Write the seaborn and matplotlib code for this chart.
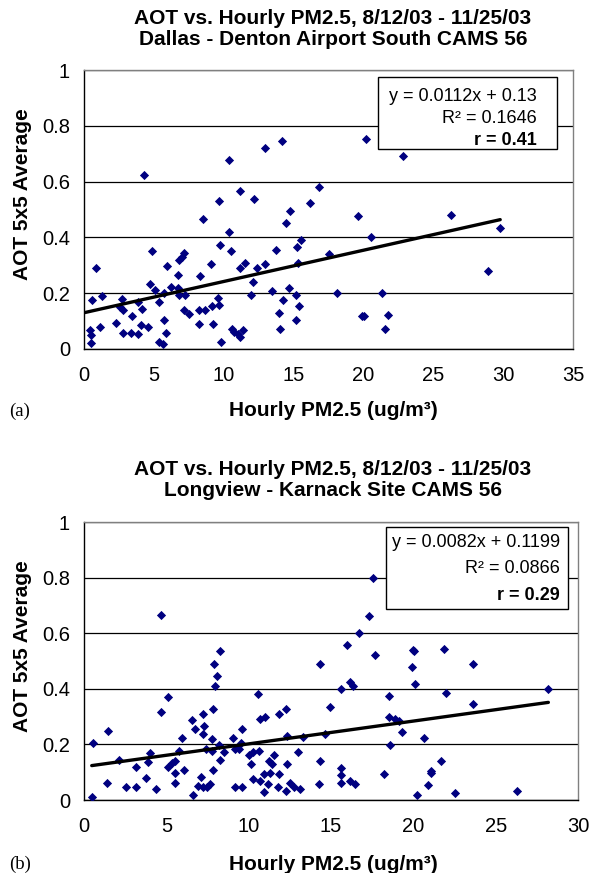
import matplotlib
matplotlib.use("Agg")
import matplotlib.pyplot as plt
import seaborn as sns
import numpy as np
import pandas as pd
from matplotlib.patches import Rectangle

# ---------------- data ----------------
dallas_pm = [0.41, 0.53, 0.48, 0.84, 0.60, 1.32, 1.13, 2.27, 2.70, 2.56, 2.80, 2.80, 3.35, 3.40, 3.83, 3.83,
             4.14, 4.07, 4.31, 4.59, 4.86, 4.74, 5.10, 5.34, 5.38, 5.62, 5.74, 5.86, 5.93, 5.74, 6.22, 6.70,
             6.70, 6.82, 6.98, 7.18, 6.82, 7.25, 7.13, 7.49, 8.30, 8.25, 8.25, 8.68, 8.54, 9.09, 9.16, 9.21,
             9.57, 9.69, 9.81, 9.64, 9.74, 10.36, 10.41, 10.53, 10.60, 10.77, 11.01, 11.18, 11.37, 11.13,
             11.20, 11.49, 11.97, 12.08, 12.20, 12.37, 12.99, 12.99, 13.47, 13.76, 13.95, 14.00, 14.24,
             14.19, 14.48, 14.72, 14.67, 15.20, 15.24, 15.38, 15.20, 15.31, 15.55, 16.15, 16.82, 17.54,
             18.14, 19.62, 19.93, 20.03, 20.15, 20.51, 21.30, 21.78, 21.54, 22.80, 26.25, 28.95, 29.79]
dallas_aot = [0.069, 0.049, 0.023, 0.292, 0.177, 0.189, 0.079, 0.093, 0.178, 0.151, 0.141, 0.057, 0.057,
              0.118, 0.169, 0.055, 0.145, 0.085, 0.623, 0.079, 0.352, 0.234, 0.211, 0.169, 0.025, 0.019,
              0.103, 0.057, 0.297, 0.199, 0.222, 0.264, 0.217, 0.318, 0.330, 0.344, 0.193, 0.193, 0.141,
              0.127, 0.262, 0.139, 0.091, 0.139, 0.465, 0.304, 0.153, 0.091, 0.184, 0.157, 0.025, 0.530,
              0.371, 0.420, 0.677, 0.352, 0.073, 0.061, 0.053, 0.043, 0.067, 0.566, 0.292, 0.309, 0.193,
              0.240, 0.536, 0.292, 0.304, 0.722, 0.208, 0.356, 0.129, 0.073, 0.177, 0.746, 0.453, 0.495,
              0.217, 0.193, 0.366, 0.153, 0.105, 0.309, 0.392, 0.522, 0.579, 0.339, 0.202, 0.476, 0.117,
              0.117, 0.752, 0.402, 0.202, 0.123, 0.071, 0.693, 0.481, 0.279, 0.435]

long_pm = [0.47, 0.57, 1.46, 1.38, 2.13, 2.54, 3.15, 3.15, 3.79, 3.89, 4.00, 4.40, 4.67, 4.67, 5.13, 5.13,
           5.34, 5.50, 5.50, 5.50, 5.78, 5.93, 6.09, 6.55, 6.74, 6.64, 6.90, 7.20, 7.30, 7.20, 7.40, 7.10,
           7.20, 7.45, 7.67, 7.75, 7.81, 7.77, 7.85, 7.87, 8.07, 7.97, 8.26, 8.22, 8.26, 8.52, 9.03, 9.17,
           9.19, 9.43, 9.54, 9.58, 9.60, 10.04, 10.14, 10.29, 10.29, 10.59, 10.65, 10.71, 10.71, 11.02,
           10.96, 10.96, 11.16, 11.22, 11.42, 11.30, 11.56, 11.83, 11.87, 11.77, 12.27, 12.33, 12.31,
           12.27, 12.52, 12.74, 12.99, 13.13, 13.29, 14.34, 14.34, 14.30, 14.61, 14.95, 15.62, 15.62,
           15.62, 15.62, 15.99, 16.13, 16.33, 16.13, 16.43, 16.70, 17.31, 17.55, 17.65, 18.22, 18.52,
           18.52, 18.60, 18.87, 19.11, 19.34, 19.92, 19.99, 20.05, 20.09, 20.23, 20.65, 20.90, 21.06,
           21.10, 21.67, 21.85, 22.01, 22.52, 23.60, 23.64, 26.27, 28.20]
long_aot = [0.010, 0.206, 0.249, 0.062, 0.144, 0.048, 0.046, 0.117, 0.078, 0.138, 0.170, 0.038, 0.665,
            0.315, 0.369, 0.117, 0.134, 0.141, 0.096, 0.062, 0.177, 0.222, 0.108, 0.287, 0.255, 0.018,
            0.050, 0.311, 0.266, 0.236, 0.182, 0.084, 0.048, 0.048, 0.057, 0.218, 0.329, 0.177, 0.108,
            0.489, 0.447, 0.410, 0.537, 0.198, 0.144, 0.174, 0.222, 0.048, 0.183, 0.182, 0.204, 0.255,
            0.046, 0.162, 0.129, 0.171, 0.074, 0.380, 0.177, 0.069, 0.290, 0.297, 0.093, 0.030, 0.057,
            0.141, 0.129, 0.096, 0.162, 0.309, 0.092, 0.048, 0.326, 0.129, 0.231, 0.034, 0.062, 0.048,
            0.174, 0.038, 0.225, 0.491, 0.141, 0.057, 0.237, 0.335, 0.398, 0.114, 0.090, 0.062, 0.557,
            0.425, 0.410, 0.069, 0.057, 0.601, 0.661, 0.799, 0.523, 0.092, 0.375, 0.297, 0.198, 0.293,
            0.285, 0.246, 0.479, 0.541, 0.536, 0.416, 0.018, 0.222, 0.054, 0.105, 0.096, 0.141, 0.543,
            0.386, 0.024, 0.345, 0.489, 0.032, 0.399]

titles = ["AOT vs. Hourly PM2.5, 8/12/03 - 11/25/03\nDallas - Denton Airport South CAMS 56",
          "AOT vs. Hourly PM2.5, 8/12/03 - 11/25/03\nLongview - Karnack Site CAMS 56"]
slopes = [0.0112, 0.0082]
intercepts = [0.13, 0.1199]
eq_texts = ["y = 0.0112x + 0.13", "y = 0.0082x + 0.1199"]
r2_texts = ["R² = 0.1646", "R² = 0.0866"]
r_texts = ["r = 0.41", "r = 0.29"]
panel_tags = ["(a)", "(b)"]
x_maxes = [35, 30]
y_ticks = [0, 0.2, 0.4, 0.6, 0.8, 1]
y_tick_labels = ["0", "0.2", "0.4", "0.6", "0.8", "1"]

# ---------------- style ----------------
sns.set_theme(style="white")
plt.rcParams['font.family'] = ['Liberation Sans', 'DejaVu Sans']
plt.rcParams['text.color'] = 'black'
plt.rcParams['axes.labelcolor'] = 'black'
plt.rcParams['xtick.color'] = 'black'
plt.rcParams['ytick.color'] = 'black'

W, H = 590, 873
fig = plt.figure(figsize=(W / 100, H / 100), dpi=100)

navy = "#000080"

# axes positions in pixels: left, right, top, bottom
ax_px = [(84, 573, 70, 349), (84, 578, 522, 800)]
title_y = [(18, 39.5), (469.5, 491)]
box_ax = [dict(x0=0.601, x1=0.968, y0=0.717, y1=0.975, xt=0.926, ys=(0.904, 0.827, 0.749)),
          dict(x0=0.612, x1=0.980, y0=0.686, y1=0.982, xt=0.963, ys=(0.928, 0.832, 0.737))]
tag_y = [411, 864]

datasets = [(dallas_pm, dallas_aot), (long_pm, long_aot)]

for i in range(2):
    l, r, t, b = ax_px[i]
    ax = fig.add_axes([l / W, 1 - b / H, (r - l) / W, (b - t) / H])
    xs, ys = datasets[i]
    df = pd.DataFrame({"pm": xs, "aot": ys})
    sns.scatterplot(data=df, x="pm", y="aot", ax=ax, marker="D", s=22, color=navy,
                    edgecolor=navy, linewidth=0, zorder=3)
    x0 = 0.0 if i == 0 else min(xs)
    x1 = max(xs)
    line_x = np.array([x0, x1])
    line_y = slopes[i] * line_x + intercepts[i]
    sns.lineplot(x=line_x, y=line_y, ax=ax, color="black", linewidth=2.4, zorder=4)

    ax.set_xlim(0, x_maxes[i])
    ax.set_ylim(0, 1)
    ax.set_xticks(range(0, x_maxes[i] + 1, 5))
    ax.set_yticks(y_ticks)
    ax.set_yticklabels(y_tick_labels)
    ax.tick_params(axis="both", labelsize=14.5, direction="out", length=5, width=1,
                   color="black", labelcolor="black")
    ax.tick_params(axis="x", pad=7)
    ax.tick_params(axis="y", pad=5)
    ax.yaxis.grid(True, color="black", linewidth=0.9)
    ax.xaxis.grid(False)
    ax.set_axisbelow(True)
    for s in ["left", "bottom"]:
        ax.spines[s].set_color("black")
        ax.spines[s].set_linewidth(1)
    for s in ["top", "right"]:
        ax.spines[s].set_color("#808080")
        ax.spines[s].set_linewidth(1)
    ax.set_xlabel("")
    ax.set_ylabel("")

    # regression box
    bx = box_ax[i]
    ax.add_patch(Rectangle((bx["x0"], bx["y0"]), bx["x1"] - bx["x0"], bx["y1"] - bx["y0"],
                           transform=ax.transAxes, facecolor="white", edgecolor="black",
                           linewidth=1, zorder=5))
    ax.text(bx["xt"], bx["ys"][0], eq_texts[i], transform=ax.transAxes, ha="right", va="center",
            fontsize=13, color="black", zorder=6)
    ax.text(bx["xt"], bx["ys"][1], r2_texts[i], transform=ax.transAxes, ha="right", va="center",
            fontsize=13, color="black", zorder=6)
    ax.text(bx["xt"], bx["ys"][2], r_texts[i], transform=ax.transAxes, ha="right", va="center",
            fontsize=13, fontweight="bold", color="black", zorder=6)

    # titles
    line1, line2 = titles[i].split("\n")
    fig.text(333 / W, 1 - title_y[i][0] / H, line1, ha="center", va="center",
             fontsize=15, fontweight="bold", color="black")
    fig.text(333 / W, 1 - title_y[i][1] / H, line2, ha="center", va="center",
             fontsize=15, fontweight="bold", color="black")

    # y label
    fig.text(22.5 / W, 1 - ((t + b) / 2 - 15) / H, "AOT 5x5 Average", rotation=90,
             ha="center", va="center", fontsize=15, fontweight="bold", color="black")
    # x label
    fig.text(333 / W, 1 - tag_y[i] / H, "Hourly PM2.5 (ug/m³)", ha="center", va="center",
             fontsize=15, fontweight="bold", color="black")
    # panel tag
    fig.text(9 / W, 1 - tag_y[i] / H, panel_tags[i], ha="left", va="center",
             fontsize=13.5, color="black", family=["Liberation Serif", "DejaVu Serif"])

fig.savefig("out.png", dpi=100)
